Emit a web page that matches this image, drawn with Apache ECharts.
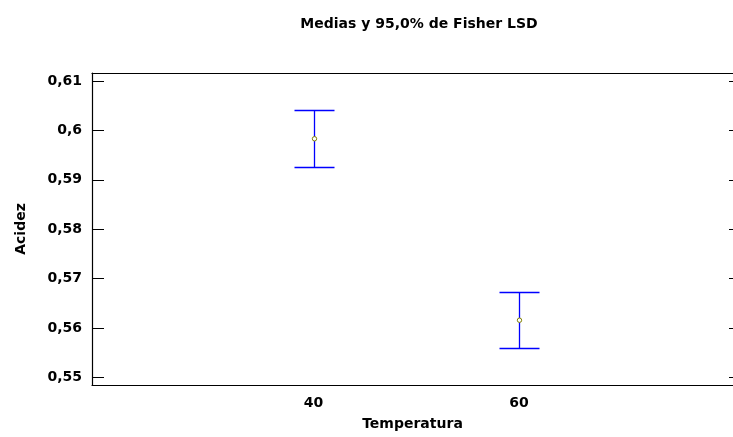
<!DOCTYPE html>
<html>
<head>
<meta charset="utf-8">
<script src="https://cdn.jsdelivr.net/npm/echarts@6/dist/echarts.min.js"></script>
<style>
html,body{margin:0;padding:0;background:#fff;}
#chart{width:733px;height:437px;}
</style>
</head>
<body>
<div id="chart"></div>
<script>
// ---- data ----
const categories = [40, 60];
const means = [0.5983, 0.5616];
const lowerLimits = [0.5926, 0.5559];
const upperLimits = [0.6041, 0.5674];
const yTicks = [0.55, 0.56, 0.57, 0.58, 0.59, 0.60, 0.61];
const xTicks = [40, 60];

const FONT = 'DejaVu Sans, Liberation Sans, sans-serif';
const chart = echarts.init(document.getElementById('chart'), null, {renderer: 'canvas'});

const seriesData = categories.map((c, i) => [c, lowerLimits[i], upperLimits[i], means[i]]);
const fmt = v => String(+(+v).toFixed(2)).replace('.', ',');
const txt = {fontFamily: FONT, fontSize: 14, fontWeight: 'bold', color: '#000'};

const option = {
  animation: false,
  backgroundColor: '#ffffff',
  title: {
    text: 'Medias y 95,0% de Fisher LSD',
    left: 414,
    top: 12,
    textAlign: 'center',
    textStyle: txt
  },
  grid: {left: 92, right: 0, top: 73, bottom: 52},
  xAxis: [{
    type: 'value', min: 18.44, max: 80.83, position: 'bottom',
    name: 'Temperatura', nameLocation: 'middle', nameGap: 32,
    nameTextStyle: txt,
    axisLine: {show: true, lineStyle: {color: '#000', width: 1.2}},
    axisTick: {show: false},
    minorTick: {show: false},
    splitLine: {show: false},
    axisLabel: Object.assign({customValues: xTicks, margin: 11}, txt)
  }, {
    type: 'value', min: 18.44, max: 80.83, position: 'top',
    axisLine: {show: true, lineStyle: {color: '#000', width: 1.2}},
    axisTick: {show: false}, minorTick: {show: false}, splitLine: {show: false}, axisLabel: {show: false}
  }],
  yAxis: [{
    type: 'value', min: 0.5485, max: 0.6116, position: 'left',
    name: 'Acidez', nameLocation: 'middle', nameGap: 64,
    nameTextStyle: txt,
    axisLine: {show: true, lineStyle: {color: '#000', width: 1.2}},
    axisTick: {show: true, inside: true, length: 12, customValues: yTicks, lineStyle: {color: '#000', width: 1}},
    splitLine: {show: false},
    axisLabel: Object.assign({customValues: yTicks, formatter: fmt, margin: 10}, txt)
  }, {
    type: 'value', min: 0.5485, max: 0.6116, position: 'right',
    axisLine: {show: false},
    axisTick: {show: true, inside: true, length: 4, customValues: yTicks, lineStyle: {color: '#000', width: 1}},
    splitLine: {show: false},
    axisLabel: {show: false}
  }],
  series: [{
    type: 'custom',
    xAxisIndex: 0, yAxisIndex: 0,
    data: seriesData,
    renderItem: function (params, api) {
      const x = api.value(0);
      const lo = api.coord([x, api.value(1)]);
      const hi = api.coord([x, api.value(2)]);
      const m = api.coord([x, api.value(3)]);
      const cx = Math.round(lo[0]) + 0.5;
      const yHi = Math.round(hi[1]) + 0.5;
      const yLo = Math.round(lo[1]) + 0.5;
      const hw = 20;
      const ls = {stroke: '#0000ff', lineWidth: 1.3};
      return {
        type: 'group',
        children: [
          {type: 'line', shape: {x1: cx, y1: yHi, x2: cx, y2: yLo}, style: ls},
          {type: 'line', shape: {x1: cx - hw, y1: yHi, x2: cx + hw, y2: yHi}, style: ls},
          {type: 'line', shape: {x1: cx - hw, y1: yLo, x2: cx + hw, y2: yLo}, style: ls},
          {type: 'circle', shape: {cx: cx, cy: m[1], r: 2.2}, style: {fill: '#ffffff', stroke: '#808000', lineWidth: 1}}
        ]
      };
    }
  }]
};
chart.setOption(option);
</script>
</body>
</html>
